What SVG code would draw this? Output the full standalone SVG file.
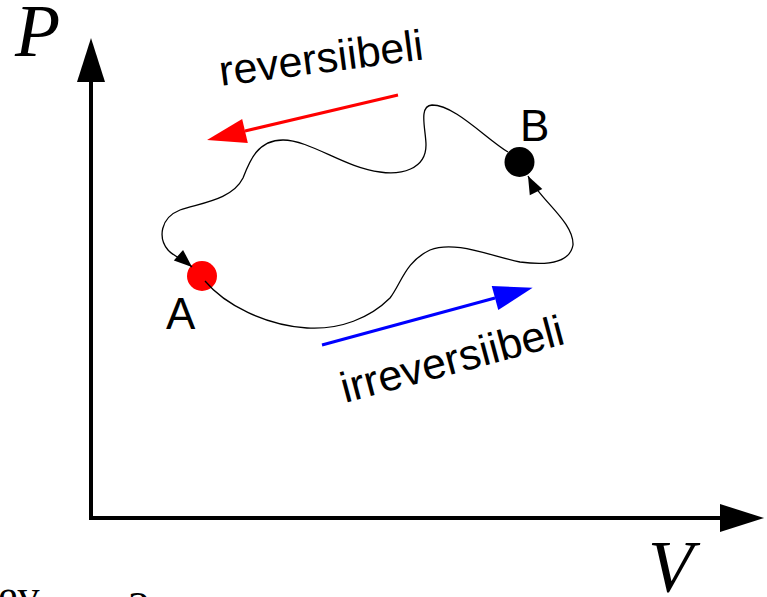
<svg xmlns="http://www.w3.org/2000/svg" width="767" height="597" viewBox="0 0 767 597">
<defs>
<style>
.axis{stroke:#000;stroke-width:4;fill:none}
.curve{stroke:#000;stroke-width:1.3;fill:none}
.lbl{font-family:"Liberation Sans",Arial,sans-serif;font-size:44px;fill:#000}
.note{font-family:"Liberation Sans",Arial,sans-serif;font-size:43px;fill:#000}
.math{font-family:"Liberation Serif","Times New Roman",serif;font-style:italic;font-size:74px;fill:#000}
.serif{font-family:"Liberation Serif","Times New Roman",serif;font-size:44px;fill:#000}
</style>
<marker id="axisHead" markerUnits="userSpaceOnUse" markerWidth="50" markerHeight="30" refX="0" refY="0" orient="auto" overflow="visible">
<path d="M0,-14 L44,0 L0,14 z" fill="#000"/>
</marker>
<marker id="curveHead" markerUnits="userSpaceOnUse" markerWidth="20" markerHeight="16" refX="0" refY="0" orient="auto" overflow="visible">
<path d="M-18,-7 L0,0 L-18,7 z" fill="#000"/>
</marker>
<marker id="redHead" markerUnits="userSpaceOnUse" markerWidth="40" markerHeight="26" refX="0" refY="0" orient="auto" overflow="visible">
<path d="M0,-12.4 L39,0 L0,12.4 z" fill="#ff0000"/>
</marker>
<marker id="blueHead" markerUnits="userSpaceOnUse" markerWidth="40" markerHeight="26" refX="0" refY="0" orient="auto" overflow="visible">
<path d="M0,-12.4 L39,0 L0,12.4 z" fill="#0000ff"/>
</marker>
</defs>

<g id="axes">
<line class="axis" x1="91" y1="520" x2="91" y2="82" marker-end="url(#axisHead)"/>
<line class="axis" x1="89" y1="518" x2="720" y2="518" marker-end="url(#axisHead)"/>
<text class="math" x="15" y="56">P</text>
<text class="math" x="648" y="592" font-size="76">V</text>
</g>

<g id="node-A">
<circle cx="202" cy="276" r="15" fill="#ff0000"/>
<text class="lbl" x="166" y="329">A</text>
</g>

<g id="node-B">
<circle cx="519.5" cy="162" r="15" fill="#000"/>
<text class="lbl" x="520" y="141">B</text>
</g>

<g id="connectors">
<path class="curve" d="M205,281 C225,305 265,325 307,328 C340,330 370,318 390,298 C402,282 405,262 430,250 C455,240 490,256 520,262 C550,266 570,262 573,245 C574,222 540,200 528,176" marker-end="url(#curveHead)"/>
<path class="curve" d="M508,152 C485,138 455,105 432,105 C418,106 426,130 426,145 C426,170 400,175 380,172 C345,168 310,140 283,140 C258,140 250,160 243,178 C232,200 200,203 180,210 C160,218 158,238 168,250 C172,255 184,260 192,267" marker-end="url(#curveHead)"/>
<line x1="398" y1="95" x2="245" y2="131" stroke="#ff0000" stroke-width="3" marker-end="url(#redHead)"/>
<line x1="322" y1="345" x2="495" y2="298" stroke="#0000ff" stroke-width="3" marker-end="url(#blueHead)"/>
</g>

<g id="labels">
<text class="note" x="221" y="86" transform="rotate(-7.5 221 86)">reversiibeli</text>
<text class="note" x="345" y="403" transform="rotate(-15 345 403)">irreversiibeli</text>
<text class="serif" x="-2" y="610">ev</text>
<text class="serif" x="128" y="622" font-size="30">2</text>
</g>
</svg>
